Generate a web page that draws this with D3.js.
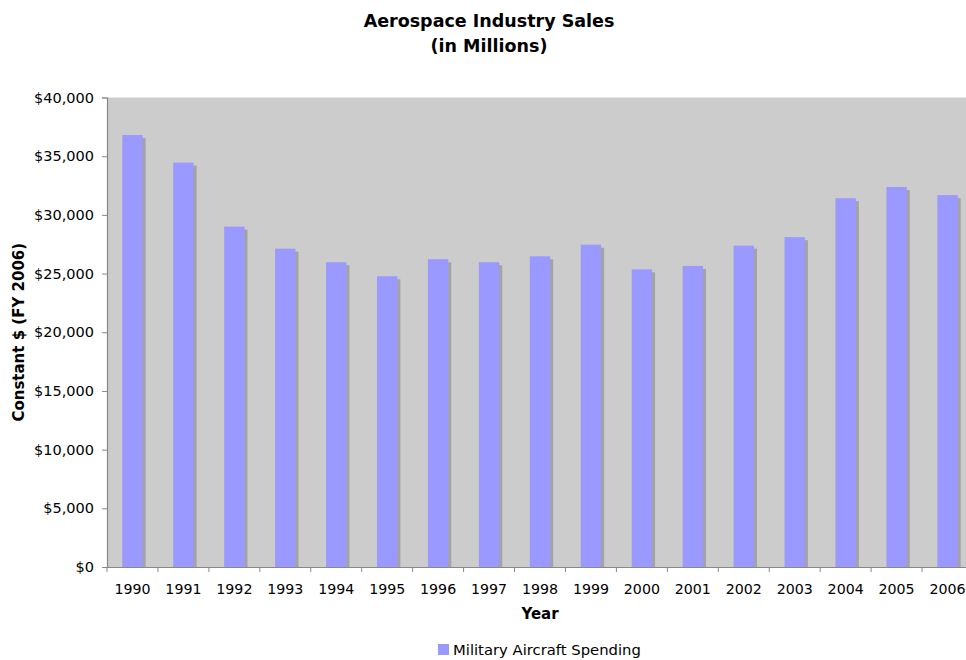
<!DOCTYPE html>
<html>
<head>
<meta charset="utf-8">
<script src="https://cdn.jsdelivr.net/npm/d3@7/dist/d3.min.js"></script>
<style>
  html, body { margin: 0; padding: 0; background: #fff; }
  svg { display: block; font-family: "DejaVu Sans", Verdana, sans-serif; }
</style>
</head>
<body>
<svg id="chart" width="966" height="660"></svg>
<script>
// Aerospace industry sales: military aircraft spending, constant FY2006 dollars (millions)
const years = ["1990","1991","1992","1993","1994","1995","1996","1997","1998","1999","2000","2001","2002","2003","2004","2005","2006"];
const spending = [36800, 34450, 29000, 27120, 25960, 24770, 26220, 25960, 26470, 27460, 25360, 25650, 27380, 28100, 31420, 32380, 31680];
const yTicks = [0, 5000, 10000, 15000, 20000, 25000, 30000, 35000, 40000];
const seriesName = "Military Aircraft Spending";

const svg = d3.select("#chart");
const plot = { left: 107, right: 973, top: 97.5, bottom: 567 };

const x = d3.scaleBand().domain(years).range([plot.left, plot.right]).paddingInner(0).paddingOuter(0);
const y = d3.scaleLinear().domain([0, 40000]).range([plot.bottom, plot.top]);

// plot background
svg.append("rect")
  .attr("x", plot.left).attr("y", plot.top)
  .attr("width", plot.right - plot.left).attr("height", plot.bottom - plot.top)
  .attr("fill", "#cccccc");

const barW = x.bandwidth() / 2.5;
const barOff = (x.bandwidth() - barW) / 2;

// drop shadows
svg.append("g").selectAll("rect").data(spending).join("rect")
  .attr("x", (d, i) => x(years[i]) + barOff + 3)
  .attr("y", d => y(d) + 3)
  .attr("width", barW)
  .attr("height", d => plot.bottom - y(d) - 3)
  .attr("fill", "#a3a3a3");

// bars
svg.append("g").selectAll("rect").data(spending).join("rect")
  .attr("x", (d, i) => x(years[i]) + barOff)
  .attr("y", d => y(d))
  .attr("width", barW)
  .attr("height", d => plot.bottom - y(d))
  .attr("fill", "#9999ff");

// y axis
const fmt = d => "$" + d3.format(",")(d);
const yAxis = svg.append("g")
  .attr("transform", `translate(${plot.left},0)`)
  .call(d3.axisLeft(y).tickValues(yTicks).tickFormat(fmt).tickSize(5).tickPadding(8));
yAxis.select(".domain").attr("stroke", "#888").attr("stroke-width", 1.2);
yAxis.selectAll(".tick line").attr("stroke", "#888");
yAxis.selectAll("text").attr("font-size", 14.5).attr("fill", "#000")
  .attr("font-family", "'DejaVu Sans', Verdana, sans-serif");

// x axis: ticks between categories
const xAxis = svg.append("g")
  .attr("transform", `translate(0,${plot.bottom})`)
  .call(d3.axisBottom(x).tickSize(0).tickPadding(17));
xAxis.select(".domain").attr("stroke", "#888").attr("stroke-width", 1.2);
xAxis.selectAll("text").attr("font-size", 14.2).attr("fill", "#000")
  .attr("font-family", "'DejaVu Sans', Verdana, sans-serif");
svg.append("g").selectAll("line").data(years).join("line")
  .attr("x1", d => x(d)).attr("x2", d => x(d))
  .attr("y1", plot.bottom).attr("y2", plot.bottom + 5)
  .attr("stroke", "#888");

// titles
const title = svg.append("text")
  .attr("x", 489).attr("text-anchor", "middle")
  .attr("font-weight", "bold").attr("font-size", 17.5);
title.append("tspan").attr("x", 489).attr("y", 26.5).text("Aerospace Industry Sales");
title.append("tspan").attr("x", 489).attr("y", 51.5).text("(in Millions)");

svg.append("text")
  .attr("x", 540).attr("y", 619)
  .attr("text-anchor", "middle").attr("font-weight", "bold").attr("font-size", 15)
  .text("Year");

svg.append("text")
  .attr("transform", `translate(24,${(plot.top + plot.bottom) / 2}) rotate(-90)`)
  .attr("text-anchor", "middle").attr("font-weight", "bold").attr("font-size", 15)
  .text("Constant $ (FY 2006)");

// legend
const legend = svg.append("g").attr("transform", "translate(438,644)");
legend.append("rect").attr("width", 11).attr("height", 11).attr("fill", "#9999ff");
legend.append("text").attr("x", 15).attr("y", 11).attr("font-size", 14.8).text(seriesName);
</script>
</body>
</html>
